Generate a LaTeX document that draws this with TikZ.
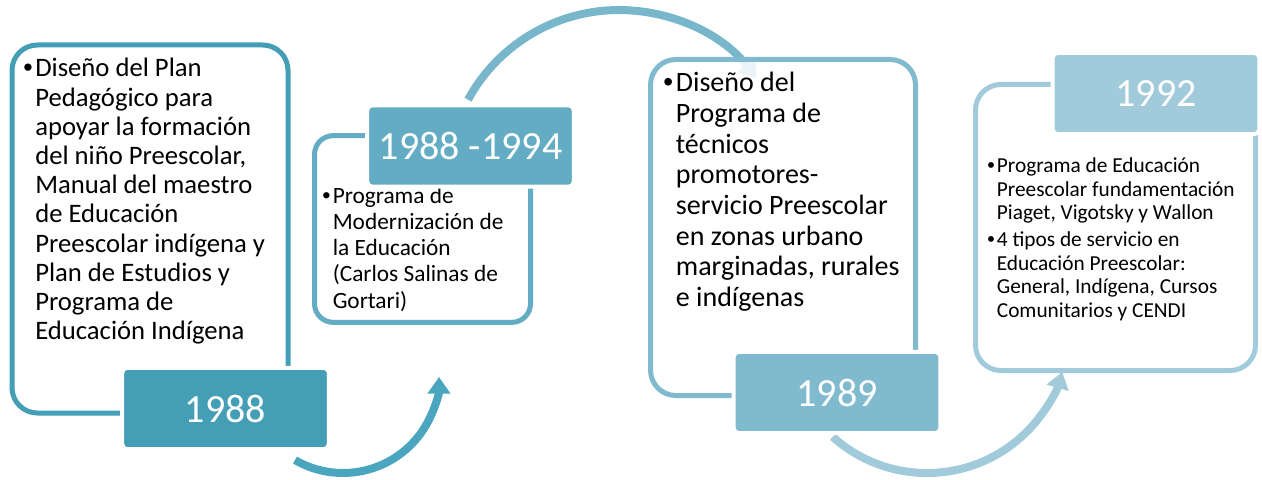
\documentclass[tikz,border=0pt]{standalone}
\usepackage{fontspec}
\setmainfont{Carlito}
\newfontfamily\bulfont{Liberation Sans}
\usetikzlibrary{arrows.meta}
\definecolor{TealDeep}{RGB}{68,158,182}
\definecolor{TealMid}{RGB}{99,172,196}
\definecolor{TealSoft}{RGB}{128,186,206}
\definecolor{TealPale}{RGB}{161,202,219}
\definecolor{FlowOne}{RGB}{74,165,190}
\definecolor{FlowTwo}{RGB}{120,183,203}
\definecolor{FlowThree}{RGB}{161,202,218}
\newcommand{\bul}{\makebox[0.45em][l]{\bulfont •}}
\newcommand{\ind}{\hspace*{0.45em}}

\begin{document}
\begin{tikzpicture}[x=0.75pt,y=0.75pt,>=Latex,
    panel/.style={draw=#1,line width=3.75pt,fill=white,fill opacity=0.85,text opacity=1},
    yearbox/.style={fill=#1,draw=white,line width=3pt,rounded corners=3.75pt,
      minimum width=155pt,minimum height=61pt,inner sep=0pt,text=white,
      font=\fontsize{30}{36}\selectfont},
    flow/.style={draw=#1,line width=6pt,-{Triangle[width=16.5pt,length=12.5pt]}},
    notes/.style={anchor=base west,inner sep=0pt}]
  \useasboundingbox (0,0) rectangle (1262,479);
  % curved arrows between the stages
  \coordinate (f1) at (295,18.9);
  \coordinate (f2) at (468,379.3);
  \coordinate (f3) at (832.7,42.2);
  \draw[flow=FlowOne] (f1) arc[start angle=240,end angle=360,radius=96];
  \draw[flow=FlowTwo] (f2) arc[start angle=151.4,end angle=37,radius=172];
  \draw[flow=FlowThree] (f3) arc[start angle=228,end angle=343.6,radius=141];
  % outlined panels
  \node[panel=TealDeep,rounded corners=19pt,minimum width=207pt,minimum height=276pt] (plan) at (150,250) {};
  \node[panel=TealMid,rounded corners=14pt,minimum width=162pt,minimum height=140pt] (reform) at (422.5,250) {};
  \node[panel=TealSoft,rounded corners=19pt,minimum width=198.75pt,minimum height=252pt] (tecnicos) at (783,251.5) {};
  \node[panel=TealPale,rounded corners=19pt,minimum width=210pt,minimum height=214.5pt] (programa) at (1115.5,251.5) {};
  % texts
  \node[notes,font=\fontsize{20}{21.9}\selectfont] (plantxt) at (23,402) {%
    \begin{tabular}[t]{@{}l@{}}
      \bul Diseño del Plan\\ \ind Pedagógico para\\ \ind apoyar la formación\\
      \ind del niño Preescolar,\\ \ind Manual del maestro\\ \ind de Educación\\
      \ind Preescolar indígena y\\ \ind Plan de Estudios y\\ \ind Programa de\\
      \ind Educación Indígena
    \end{tabular}};
  \node[notes,font=\fontsize{17.5}{19.7}\selectfont] (reformtxt) at (322,276) {%
    \begin{tabular}[t]{@{}l@{}}
      \bul Programa de\\ \ind Modernización de\\ \ind la Educación\\
      \ind (Carlos Salinas de\\ \ind Gortari)
    \end{tabular}};
  \node[notes,font=\fontsize{21}{23}\selectfont] (tecnicostxt) at (663,387) {%
    \begin{tabular}[t]{@{}l@{}}
      \bul Diseño del\\ \ind Programa de\\ \ind técnicos\\ \ind promotores-\\
      \ind servicio Preescolar\\ \ind en zonas urbano\\ \ind marginadas, rurales\\
      \ind e indígenas
    \end{tabular}};
  \node[notes,font=\fontsize{16}{17.6}\selectfont] (programatxt) at (987,306) {%
    \begin{tabular}[t]{@{}l@{}}
      \bul Programa de Educación\\ \ind Preescolar fundamentación\\
      \ind Piaget, Vigotsky y Wallon\\[2.6pt]
      \bul 4 tipos de servicio en\\ \ind Educación Preescolar:\\
      \ind General, Indígena, Cursos\\ \ind Comunitarios y CENDI
    \end{tabular}};
  % year tabs
  \node[yearbox=TealDeep] (y1988) at (225.5,70.5) {1988};
  \node[yearbox=TealMid] (y1994) at (470.5,333) {1988 -1994};
  \node[yearbox=TealSoft] (y1989) at (837,86.5) {1989};
  \node[yearbox=TealPale] (y1992) at (1156,385.5) {1992};
\end{tikzpicture}
\end{document}
